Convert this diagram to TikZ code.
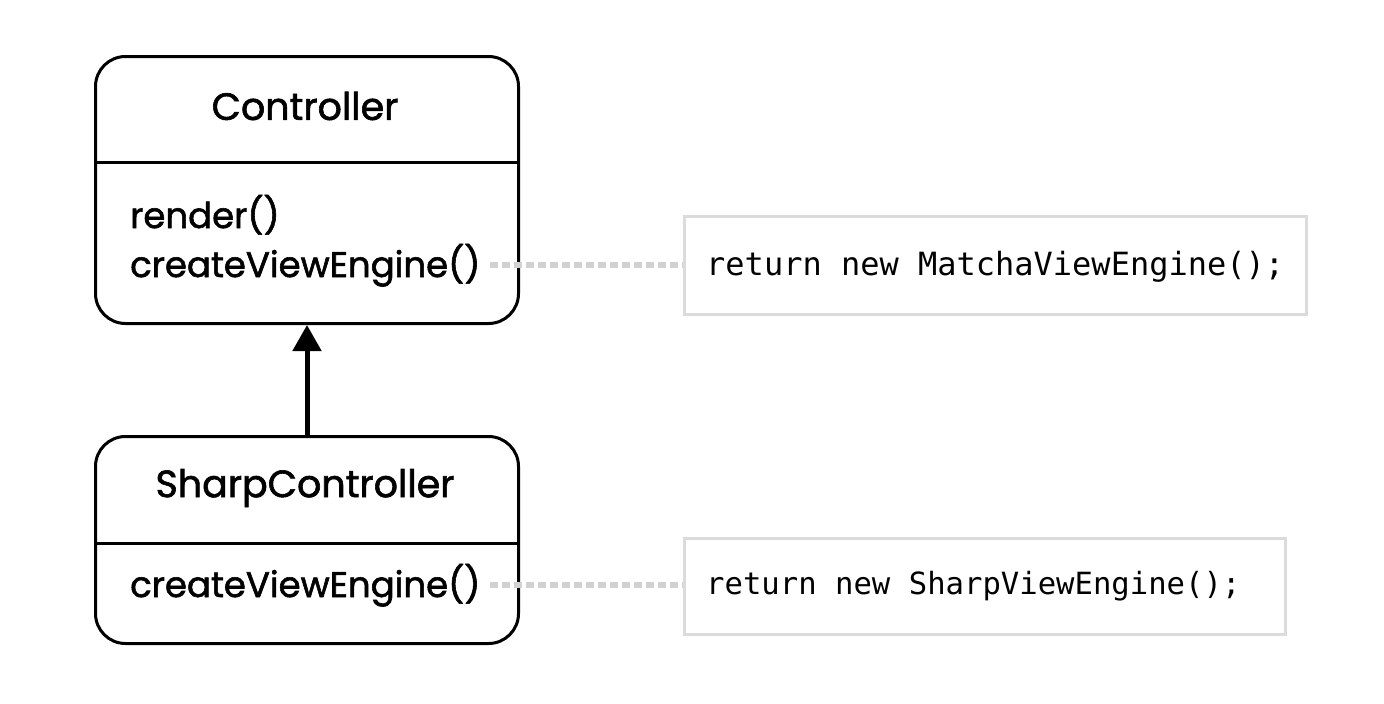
\documentclass[tikz,border=0pt]{standalone}
\usepackage{fontspec}
\newfontfamily\pop[FakeBold=1.6]{Poppins}
\newfontfamily\codefont{DejaVu Sans Mono}
\usetikzlibrary{arrows.meta}
\begin{document}
\begin{tikzpicture}[x=1pt,y=-1pt,
  umlbox/.style={draw,line width=3pt,rounded corners=30pt,inner sep=0pt,anchor=north west},
  codebox/.style={draw=black!14,line width=3pt,inner sep=0pt,anchor=north west},
  title/.style={font=\pop\fontsize{38}{42}\selectfont,anchor=center},
  meth/.style={font=\pop\fontsize{35.5}{40}\selectfont,anchor=base west,inner sep=0pt},
  code/.style={font=\codefont\fontsize{32}{36}\selectfont,anchor=base west,inner sep=0pt},
  dots/.style={draw=black!18,line width=5.5pt,dash pattern=on 8pt off 4pt},
  divider/.style={line width=3pt}]
\useasboundingbox (0,0) rectangle (1384,704);
% Controller
\node[umlbox,minimum width=423pt,minimum height=267pt] (ctrl) at (94,55) {};
\coordinate (d1l) at (94,162);
\coordinate (d1r) at (517,162);
\draw[divider] (d1l) -- (d1r);
\node[title] (ctitle) at (305,106) {Controller};
\node[meth] (crender) at (130,228) {render()};
\node[meth] (ccreate) at (130,277) {createViewEngine()};
% SharpController
\node[umlbox,minimum width=423pt,minimum height=207pt] (sharp) at (94,435) {};
\coordinate (d2l) at (94,543);
\coordinate (d2r) at (517,543);
\draw[divider] (d2l) -- (d2r);
\node[title] (stitle) at (305,488) {SharpController};
\node[meth] (screate) at (130,597) {createViewEngine()};
% inheritance
\draw[line width=5pt,-{Triangle[length=26pt,width=28pt]}] (sharp.north) -- (ctrl.south);
% code boxes
\node[codebox,minimum width=622pt,minimum height=98pt] (code1) at (683,215) {};
\node[code] (c1text) at (706,275) {return new MatchaViewEngine();};
\node[codebox,minimum width=601pt,minimum height=96pt] (code2) at (683,537) {};
\node[code,font=\codefont\fontsize{30.6}{34}\selectfont] (c2text) at (706,594) {return new SharpViewEngine();};
% dotted connectors
\coordinate (e1) at (490,265);
\coordinate (e2) at (490,585);
\draw[dots] (e1) -- (code1.west |- e1);
\draw[dots] (e2) -- (code2.west |- e2);
\end{tikzpicture}
\end{document}
